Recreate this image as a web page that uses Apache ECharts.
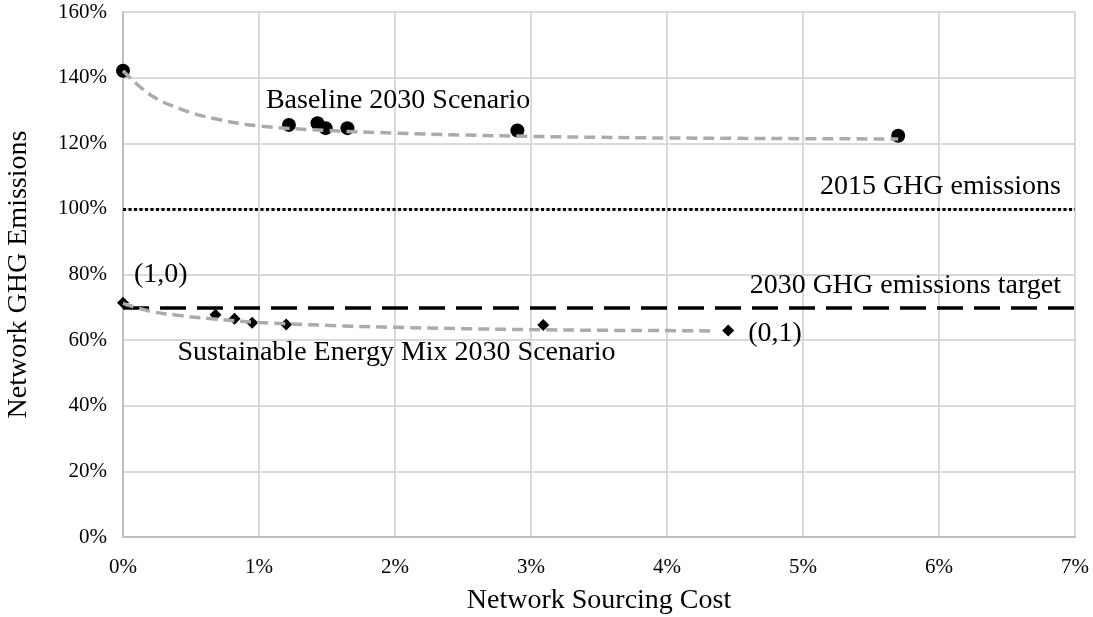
<!DOCTYPE html>
<html>
<head>
<meta charset="utf-8">
<script src="https://cdn.jsdelivr.net/npm/echarts@6/dist/echarts.min.js"></script>
<style>
  html, body { margin: 0; padding: 0; background: #ffffff; }
  #chart { width: 1093px; height: 617px; }
</style>
</head>
<body>
<div id="chart"></div>
<script>
// Network sourcing cost (%) vs. network GHG emissions (% of 2015 level)
const baselinePoints = [
  [0, 142.1], [1.22, 125.6], [1.43, 126.1], [1.49, 124.6],
  [1.65, 124.6], [2.90, 123.9], [5.70, 122.3]
];
const baselineTrend = [
  [0, 142.1], [0.2, 134.8], [0.42, 130.5], [0.66, 127.6], [1.0, 125.3],
  [1.5, 123.9], [2.0, 123.1], [2.5, 122.5], [3.0, 122.1], [3.5, 121.8],
  [4.0, 121.6], [4.5, 121.5], [5.0, 121.4], [5.7, 121.3]
];
const sustainablePoints = [
  [0, 71.4], [0.68, 67.7], [0.82, 66.5], [0.95, 65.3],
  [1.20, 64.8], [3.09, 64.6], [4.45, 62.9]
];
const sustainableTrend = [
  [0, 71.2], [0.2, 68.8], [0.4, 67.6], [0.65, 66.5], [1.0, 65.4],
  [1.5, 64.5], [2.0, 63.9], [2.5, 63.5], [3.0, 63.2], [3.5, 63.0],
  [4.0, 62.9], [4.35, 62.8]
];
const emissions2015 = 100;
const target2030 = 70;
const xTicks = { min: 0, max: 7, step: 1 };
const yTicks = { min: 0, max: 160, step: 20 };

const FONT = '"Liberation Serif", "DejaVu Serif", serif';
const TEXT_SIZE = 28;
const TICK_SIZE = 21;

const chart = echarts.init(document.getElementById('chart'), null, { renderer: 'canvas' });

function pointLabel(text, offset) {
  return {
    show: true,
    formatter: text,
    position: 'inside',
    align: 'left',
    verticalAlign: 'middle',
    offset: offset,
    color: '#000',
    fontFamily: FONT,
    fontSize: TEXT_SIZE
  };
}

const baselineData = baselinePoints.map((p, i) => {
  const item = { value: p };
  if (i === 1) item.label = pointLabel('Baseline 2030 Scenario', [-23, -24]);
  return item;
});

const sustainableData = sustainablePoints.map((p, i) => {
  const item = { value: p };
  if (i === 0) item.label = pointLabel('(1,0)', [11, -28]);
  if (i === 1) item.label = pointLabel('Sustainable Energy Mix 2030 Scenario', [-38, 38]);
  if (i === sustainablePoints.length - 1) item.label = pointLabel('(0,1)', [20, 3]);
  return item;
});

function refLine(value, text, lineStyle) {
  return {
    silent: true,
    symbol: ['none', 'none'],
    animation: false,
    lineStyle: lineStyle,
    label: {
      show: true,
      position: 'insideEndTop',
      formatter: text,
      distance: [14, 8],
      color: '#000',
      fontFamily: FONT,
      fontSize: TEXT_SIZE
    },
    data: [{ yAxis: value }]
  };
}

chart.setOption({
  animation: false,
  backgroundColor: '#ffffff',
  grid: {
    left: 123, right: 18, top: 12, bottom: 80,
    containLabel: false,
    outerBoundsMode: 'none'
  },
  xAxis: {
    type: 'value',
    min: xTicks.min, max: xTicks.max, interval: xTicks.step,
    name: 'Network Sourcing Cost',
    nameLocation: 'middle',
    nameGap: 50,
    nameTextStyle: { fontFamily: FONT, fontSize: TEXT_SIZE, color: '#000' },
    axisLine: { show: true, lineStyle: { color: '#bfbfbf', width: 2 } },
    axisTick: { show: false },
    axisLabel: { formatter: '{value}%', margin: 20, fontFamily: FONT, fontSize: TICK_SIZE, color: '#000' },
    splitLine: { show: true, lineStyle: { color: '#d9d9d9', width: 2 } }
  },
  yAxis: {
    type: 'value',
    min: yTicks.min, max: yTicks.max, interval: yTicks.step,
    name: 'Network GHG Emissions',
    nameLocation: 'middle',
    nameRotate: 90,
    nameGap: 90,
    nameTextStyle: { fontFamily: FONT, fontSize: TEXT_SIZE, color: '#000' },
    axisLine: { show: true, lineStyle: { color: '#bfbfbf', width: 2 } },
    axisTick: { show: false },
    axisLabel: { formatter: '{value}%', margin: 16, fontFamily: FONT, fontSize: TICK_SIZE, color: '#000' },
    splitLine: { show: true, lineStyle: { color: '#d9d9d9', width: 2 } }
  },
  series: [
    {
      name: 'Reference levels',
      type: 'line',
      data: [],
      z: 3,
      markLine: refLine(emissions2015, '2015 GHG emissions',
        { color: '#000', width: 3, type: [3, 2.5] })
    },
    {
      name: 'Target',
      type: 'line',
      data: [],
      z: 3,
      markLine: refLine(target2030, '2030 GHG emissions target',
        { color: '#000', width: 3.5, type: [26, 11] })
    },
    {
      name: 'Baseline 2030 Scenario',
      type: 'scatter',
      symbol: 'circle',
      symbolSize: 14,
      itemStyle: { color: '#000', opacity: 1 },
      data: baselineData,
      z: 4
    },
    {
      name: 'Sustainable Energy Mix 2030 Scenario',
      type: 'scatter',
      symbol: 'diamond',
      symbolSize: 12,
      itemStyle: { color: '#000', opacity: 1 },
      data: sustainableData,
      z: 4
    },
    {
      name: 'Baseline trend',
      type: 'line',
      data: baselineTrend,
      smooth: 0.4,
      showSymbol: false,
      lineStyle: { color: '#aeaaaa', width: 3.5, type: [11, 6] },
      z: 5
    },
    {
      name: 'Sustainable trend',
      type: 'line',
      data: sustainableTrend,
      smooth: 0.4,
      showSymbol: false,
      lineStyle: { color: '#aeaaaa', width: 3.5, type: [11, 6] },
      z: 5
    }
  ]
});
</script>
</body>
</html>
